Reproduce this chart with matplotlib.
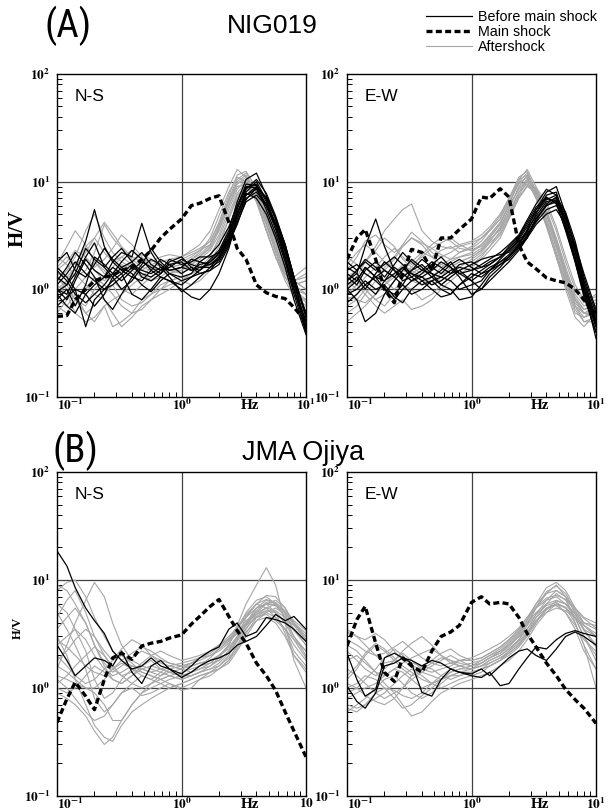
import matplotlib
matplotlib.use('Agg')
import matplotlib.pyplot as plt
from matplotlib.lines import Line2D
from matplotlib.ticker import LogLocator, FixedLocator, NullFormatter

plt.rcParams['mathtext.fontset'] = 'stix'
plt.rcParams['font.family'] = ['Liberation Sans', 'DejaVu Sans']

# ---------------- data ----------------
freq = [0.10, 0.12, 0.14, 0.17, 0.20, 0.24, 0.28, 0.33, 0.40, 0.48, 0.57, 0.68, 0.80,
        1.0, 1.2, 1.4, 1.7, 2.0, 2.4, 2.8, 3.3, 4.0, 4.8, 5.7, 6.8, 8.0, 10.0]

# (A) NIG019 N-S
a_ns_before = [
    [1.0,0.8,1.2,1.9,1.5,1.3,1.6,1.4,1.7,1.5,1.4,1.6,1.5,1.6,1.5,1.7,1.8,2.1,3.2,5.5,8.8,9.5,6.5,4.0,2.2,1.1,0.5],
    [1.3,1.1,1.6,2.8,5.5,2.5,1.8,1.5,1.3,1.2,1.5,1.9,1.7,1.4,1.6,1.5,1.9,2.3,3.5,6.5,10.5,12,7.5,4.5,2.4,1.2,0.45],
    [0.9,0.7,0.6,0.9,1.1,1.3,1.8,2.2,2.0,4.1,2.2,1.6,1.3,0.95,1.1,1.3,1.6,2.0,3.0,5.0,7.5,8.5,6.0,3.8,2.0,1.0,0.45],
    [1.5,1.2,0.9,0.75,0.9,1.1,1.4,1.2,1.5,1.8,1.6,1.4,1.7,1.8,1.5,1.6,1.7,1.9,2.8,4.5,7.0,8.0,6.2,4.2,2.5,1.3,0.55],
    [0.7,0.85,1.0,0.45,0.8,1.0,1.2,1.4,0.9,0.8,1.0,1.3,1.2,1.0,0.85,0.8,1.0,1.4,2.4,4.5,7.5,9.0,7.0,4.5,2.6,1.3,0.4],
    [1.8,2.2,1.5,1.3,1.7,2.4,1.9,1.6,1.8,2.2,1.7,1.5,1.9,1.7,1.8,2.0,2.0,2.2,3.0,5.0,8.0,10.0,6.8,4.0,2.0,1.0,0.5],
    [1.1,1.4,1.8,1.4,1.2,1.0,1.1,1.3,1.6,1.4,1.3,1.5,1.6,1.9,1.7,1.6,1.6,1.8,2.6,4.2,6.5,7.5,6.0,4.0,2.3,1.2,0.6],
    [1.0,0.9,1.3,2.0,2.7,1.6,1.3,1.0,1.2,1.6,1.9,1.7,1.4,1.3,1.4,1.8,2.1,2.6,3.8,6.0,9.0,8.8,5.5,3.3,1.8,0.9,0.4],
    [0.8,1.0,0.7,1.1,2.0,1.7,1.4,1.8,2.3,1.9,1.5,1.3,1.2,1.1,1.3,1.4,1.5,1.7,2.5,4.8,8.5,10.5,7.8,4.8,2.6,1.3,0.6],
    [1.2,1.6,2.2,1.7,1.3,0.8,0.65,0.9,1.3,1.7,2.4,1.8,1.5,1.6,1.9,1.8,1.7,2.0,2.9,5.2,7.8,7.0,5.0,3.0,1.6,0.8,0.38],
    [0.95,1.1,1.4,2.4,1.9,1.6,2.0,2.4,1.8,1.3,1.2,1.4,1.8,2.0,1.6,1.4,1.5,1.9,2.7,4.0,6.8,8.8,7.2,4.6,2.6,1.3,0.55],
    [1.6,1.3,1.0,0.9,0.7,0.9,1.3,1.6,1.4,1.1,0.95,1.2,1.4,1.2,1.3,1.5,1.8,2.2,3.3,5.8,9.5,9.2,6.0,3.6,1.9,1.0,0.42],
]
a_ns_after = [
    [1.2,1.5,2.0,3.5,5.0,3.0,2.2,1.8,1.6,1.5,1.7,1.8,1.9,2.0,2.2,2.4,2.8,4.0,7.0,10.5,12,9.0,5.0,2.8,1.6,1.2,1.0],
    [0.8,0.7,0.9,0.6,0.5,0.7,0.45,0.5,0.6,0.8,0.9,1.1,1.2,1.3,1.4,1.5,1.8,2.5,4.5,7.5,9.0,7.0,4.0,2.2,1.3,0.9,0.7],
    [1.6,2.0,1.7,2.5,3.0,2.2,1.8,2.0,2.3,1.9,1.8,2.0,2.1,2.0,2.3,2.6,3.5,5.5,9.0,13,11,7.0,3.5,2.0,1.4,1.3,1.6],
    [1.0,1.2,1.4,1.1,0.9,0.8,0.6,0.45,0.55,0.7,0.8,0.9,1.0,1.2,1.1,1.2,1.5,2.0,3.5,6.5,9.5,8.0,4.5,2.5,1.5,1.0,0.8],
    [2.0,1.7,1.3,1.5,2.2,4.0,3.0,2.4,1.9,1.6,1.5,1.4,1.6,1.7,1.9,2.2,3.0,4.8,8.0,11,10,6.5,3.5,2.0,1.3,1.1,1.2],
    [0.6,0.8,1.0,1.3,1.8,1.5,1.2,1.0,0.9,1.1,1.3,1.5,1.4,1.6,1.7,1.9,2.3,3.2,5.5,8.5,10.5,8.5,5.0,3.0,1.7,1.1,0.9],
    [1.3,1.0,0.8,0.7,1.0,1.3,1.6,2.0,1.7,1.4,1.2,1.3,1.5,1.4,1.6,1.8,2.1,2.8,4.5,7.0,9.5,8.5,5.5,3.2,1.8,1.2,1.0],
    [1.7,2.5,3.5,2.6,1.8,1.4,1.3,1.5,1.8,2.1,1.9,1.6,1.7,1.8,2.0,2.3,2.6,3.8,6.5,10,11.5,8.0,4.2,2.3,1.4,1.0,0.9],
    [0.9,1.1,0.8,0.6,0.7,0.9,1.1,0.8,0.7,0.75,0.9,1.0,1.2,1.3,1.3,1.5,1.7,2.2,3.8,6.0,8.5,7.5,4.8,2.8,1.6,1.0,0.75],
    [1.4,1.3,1.6,1.9,1.5,1.2,1.4,1.7,1.5,1.3,1.6,1.7,1.5,1.5,1.8,2.0,2.4,3.5,6.0,9.5,11,8.0,4.5,2.5,1.5,1.2,1.3],
    [0.9,1.2,1.6,2.2,3.0,4.2,3.3,2.5,2.0,1.8,1.6,1.5,1.4,1.5,1.7,2.0,2.5,3.8,6.8,9.8,10,7.0,4.0,2.3,1.4,1.1,1.2],
    [1.1,0.9,0.6,0.5,0.55,0.7,0.8,0.9,1.1,1.3,1.2,1.4,1.6,1.7,1.9,2.1,2.6,3.6,6.0,9.0,9.5,6.5,3.6,2.0,1.2,0.85,0.8],
    [1.5,1.8,2.3,2.0,1.6,1.9,2.4,3.2,2.6,2.0,1.6,1.5,1.7,1.9,2.1,2.3,2.8,4.2,7.5,11.5,12.5,8.5,4.6,2.5,1.5,1.2,1.4],
    [0.7,0.6,0.8,1.0,1.3,1.1,0.9,0.7,0.6,0.65,0.8,1.0,1.1,1.2,1.4,1.6,2.0,3.0,5.0,7.8,10,8.0,5.2,3.0,1.7,1.1,0.9],
]
a_ns_main = [0.56,0.57,0.8,1.0,1.2,1.3,1.35,1.5,1.6,1.9,2.3,3.0,3.6,4.5,6.0,6.3,7.0,7.4,4.2,2.4,1.9,1.1,0.93,0.86,0.82,0.68,0.5]

# (A) NIG019 E-W
a_ew_before = [
    [1.2,1.4,2.5,4.5,2.5,1.5,1.2,1.3,1.5,1.4,1.3,1.5,1.6,1.5,1.6,1.8,2.0,2.3,2.8,3.5,4.8,6.5,7.0,4.0,2.0,1.0,0.5],
    [1.0,0.8,0.5,0.6,0.9,1.2,1.5,1.9,1.6,1.3,1.5,1.8,1.4,1.2,1.4,1.6,1.8,2.0,2.5,3.2,4.5,6.0,6.5,4.5,2.3,1.1,0.45],
    [1.5,1.7,1.4,1.2,1.0,0.8,1.0,1.2,1.4,1.7,2.0,1.6,1.3,0.9,1.0,1.3,1.6,2.0,2.6,3.6,5.5,8.0,9.0,5.0,2.5,1.2,0.55],
    [1.3,1.1,1.5,1.8,1.5,1.3,1.6,1.4,1.2,1.0,0.85,0.9,1.1,1.3,1.5,1.7,2.0,2.4,3.0,4.0,5.5,7.0,6.5,3.5,1.8,0.9,0.4],
    [1.8,1.5,1.9,1.6,1.3,1.7,2.2,1.8,1.5,1.8,1.6,1.4,1.5,1.7,1.9,2.0,2.1,2.2,2.7,3.3,4.2,5.5,6.0,4.5,2.6,1.4,0.65],
    [0.9,1.0,1.2,1.0,1.1,0.85,0.75,1.0,1.2,1.3,1.1,1.0,0.8,0.85,1.1,1.4,1.7,2.0,2.5,3.0,4.0,5.0,5.5,4.0,2.2,1.1,0.5],
    [1.1,1.3,1.0,1.4,1.8,1.5,1.3,1.5,1.9,1.6,1.4,1.7,1.9,1.6,1.4,1.5,1.9,2.3,2.9,3.8,5.2,6.8,7.5,4.8,2.4,1.0,0.35],
    [1.4,1.2,1.6,1.3,1.2,1.4,1.6,1.3,1.1,1.2,1.3,1.2,1.0,1.1,1.2,1.5,1.8,2.1,2.6,3.4,5.0,7.5,8.0,4.2,2.0,1.0,0.45],
    [1.0,1.2,1.6,1.3,1.0,0.9,1.1,1.5,1.7,1.4,1.1,1.3,1.5,1.2,1.0,1.2,1.5,1.8,2.3,3.0,4.3,6.2,7.2,5.2,2.8,1.3,0.6],
    [1.6,1.4,1.1,0.9,1.2,1.6,1.4,1.2,1.3,1.5,1.8,1.6,1.4,1.5,1.7,1.9,2.2,2.6,3.2,4.4,6.2,8.5,7.5,3.8,1.8,0.85,0.4],
    [0.75,0.9,1.1,1.3,1.5,1.3,1.1,0.9,1.0,1.2,1.0,0.9,1.1,1.4,1.3,1.5,1.7,1.9,2.4,3.1,4.6,6.0,6.8,4.6,2.5,1.2,0.5],
    [1.2,1.5,1.8,1.5,1.7,2.0,1.7,1.4,1.3,1.1,1.2,1.4,1.7,1.8,1.6,1.7,2.0,2.5,3.1,4.2,5.8,7.2,6.2,3.6,1.9,0.95,0.45],
]
a_ew_after = [
    [1.0,1.3,1.8,2.5,3.5,4.5,5.5,6.2,3.5,2.8,2.5,2.4,2.6,2.8,3.2,3.8,5.0,7.0,10,12,8.0,4.5,2.5,1.3,0.8,0.6,0.6],
    [0.5,0.6,0.7,0.9,1.1,1.3,1.5,1.8,2.2,2.0,2.3,2.5,2.2,2.4,2.8,3.5,4.5,6.5,9.5,11,7.5,4.0,2.0,1.0,0.55,0.45,0.6],
    [1.5,2.0,2.8,3.2,2.6,2.2,2.5,3.0,2.7,2.4,2.1,1.9,2.0,2.2,2.6,3.2,4.2,6.0,8.5,10,7.0,4.2,2.2,1.2,0.7,0.6,0.7],
    [0.7,0.8,1.0,0.8,0.7,0.9,1.1,1.0,0.8,0.9,1.1,1.3,1.5,1.7,2.0,2.5,3.5,5.0,8.0,9.5,7.5,5.0,2.8,1.5,0.8,0.6,0.55],
    [1.2,1.0,1.3,1.6,2.0,2.4,2.0,1.7,2.0,2.4,2.7,3.0,2.6,2.3,2.5,3.0,4.0,6.0,10.5,13,9.0,5.0,2.6,1.4,0.8,0.65,0.75],
    [0.9,1.1,0.9,0.7,0.6,0.7,0.8,0.65,0.7,0.8,1.0,1.2,1.4,1.6,1.9,2.3,3.0,4.5,7.0,9.0,8.0,5.5,3.0,1.6,0.9,0.7,0.8],
    [2.0,1.7,1.4,1.2,1.5,1.9,2.5,3.0,2.6,2.0,1.7,1.6,1.8,2.0,2.3,2.8,3.8,5.5,9.0,11.5,8.5,5.0,2.8,1.4,0.7,0.5,0.5],
    [1.3,1.5,1.8,2.3,3.0,2.5,1.9,1.6,1.4,1.5,1.7,1.9,2.2,2.5,3.0,3.6,4.8,7.0,11,12.5,8.0,4.0,2.0,1.1,0.6,0.55,0.65],
    [0.8,0.9,1.1,1.3,1.2,1.0,1.2,1.4,1.6,1.3,1.2,1.4,1.6,1.9,2.2,2.7,3.3,4.8,7.5,10,8.5,6.0,3.5,1.8,1.0,0.75,0.9],
    [1.1,1.2,1.0,1.4,1.8,1.6,1.4,1.2,1.1,1.3,1.6,1.8,2.0,2.1,2.4,2.9,3.6,5.2,8.0,10.5,7.8,4.5,2.4,1.3,0.75,0.6,0.6],
    [0.6,0.7,0.9,1.2,1.6,2.0,2.6,3.4,2.8,2.2,2.0,2.2,2.5,2.7,3.0,3.5,4.5,6.8,10.5,11.5,7.0,3.8,2.0,1.1,0.65,0.5,0.55],
    [1.4,1.2,1.0,0.8,0.9,1.2,1.5,1.4,1.2,1.1,1.3,1.6,1.8,2.0,2.3,2.8,3.7,5.6,8.8,10.5,8.2,5.2,2.9,1.5,0.85,0.65,0.7],
    [1.7,2.2,2.6,2.2,1.8,1.5,1.3,1.6,2.1,2.6,3.0,2.8,2.4,2.3,2.6,3.1,4.1,6.2,9.8,11,7.2,4.0,2.1,1.2,0.7,0.55,0.6],
    [0.85,0.8,0.75,0.9,1.1,1.4,1.7,1.5,1.3,1.2,1.4,1.5,1.7,1.8,2.1,2.5,3.2,4.6,7.2,9.2,8.8,6.5,3.8,2.0,1.1,0.8,0.85],
]
a_ew_main = [1.9,3.0,3.6,1.9,1.0,0.75,1.4,2.35,2.2,1.5,3.0,3.0,3.6,4.5,7.2,7.0,8.6,7.2,2.6,1.8,1.55,1.28,1.2,1.15,1.0,0.8,0.6]

# (B) JMA Ojiya N-S
b_ns_before = [
    [18.6,13.5,8.5,5.5,4.2,3.2,2.2,1.8,1.5,1.6,1.9,1.6,1.5,1.35,1.6,1.9,2.2,2.4,3.5,4.0,3.0,3.3,4.5,4.3,4.0,3.5,2.7],
    [2.5,1.8,1.3,1.6,1.9,1.8,1.6,2.2,1.4,1.1,1.6,1.8,1.5,1.25,1.4,1.6,1.8,1.9,2.1,2.5,2.7,3.0,3.8,4.8,4.2,4.6,3.5],
]
b_ns_after = [
    [8.0,9.5,10,7.0,4.5,3.0,2.2,1.8,1.6,1.5,1.4,1.3,1.4,1.5,1.6,1.7,1.8,2.0,2.5,3.5,5.0,6.5,7.0,6.0,4.5,3.0,2.0],
    [6.0,5.0,3.5,2.2,1.2,0.8,0.9,1.2,1.5,1.4,1.3,1.2,1.3,1.4,1.5,1.6,1.7,1.8,2.2,3.0,4.5,6.0,5.5,4.5,3.5,2.5,1.8],
    [1.5,2.5,4.0,6.5,9.5,7.0,4.0,2.5,1.8,1.6,1.5,1.4,1.3,1.2,1.3,1.4,1.6,1.9,2.5,3.8,6.0,9.0,13,9.0,4.0,1.8,1.0],
    [3.0,2.0,1.2,0.7,0.45,0.35,0.32,0.45,0.6,0.7,0.8,0.9,1.0,1.1,1.2,1.3,1.4,1.5,1.7,2.2,3.0,4.2,5.0,5.5,4.8,3.5,2.5],
    [1.2,1.0,0.8,0.6,0.5,0.55,0.7,0.9,1.1,1.3,1.2,1.1,1.0,1.1,1.2,1.3,1.4,1.5,1.8,2.5,3.5,4.8,5.5,6.0,5.0,3.8,2.8],
    [4.5,6.5,8.0,5.0,3.0,2.2,1.8,2.3,2.8,2.5,2.0,1.7,1.6,1.5,1.7,1.9,2.2,2.5,2.8,3.2,4.0,5.5,6.5,6.0,5.0,4.0,3.0],
    [2.0,1.6,1.3,1.1,1.2,1.5,1.8,2.0,1.7,1.4,1.3,1.2,1.1,1.0,1.1,1.2,1.3,1.5,1.8,2.3,3.2,4.5,5.0,4.5,3.5,2.2,1.6],
    [1.0,0.9,1.0,1.3,1.6,1.4,1.2,1.1,1.3,1.6,1.8,1.5,1.4,1.3,1.4,1.5,1.7,2.0,2.4,3.0,3.8,4.5,4.8,4.2,3.5,2.8,2.2],
    [5.0,3.5,2.5,1.5,0.8,0.6,0.7,0.9,1.0,0.85,0.9,1.0,1.1,0.95,1.0,1.2,1.4,1.6,2.0,2.8,4.0,5.5,6.0,5.0,3.2,2.0,1.5],
    [1.8,2.2,2.8,3.5,3.0,2.0,1.5,1.3,1.4,1.7,2.0,2.2,2.0,1.8,1.9,2.0,2.2,2.5,3.0,3.6,4.5,5.5,6.0,5.8,5.0,4.0,3.2],
    [1.3,1.2,1.1,1.0,0.9,0.7,0.5,0.5,0.7,0.9,1.1,1.2,1.3,1.2,1.3,1.4,1.5,1.6,1.9,2.4,3.3,4.2,4.5,4.0,3.0,2.0,1.4],
    [2.5,3.0,3.5,2.8,2.0,1.5,1.3,1.4,1.6,1.5,1.4,1.5,1.6,1.7,1.8,1.9,2.0,2.2,2.6,3.3,4.2,5.0,5.5,5.2,4.5,3.8,2.8],
    [1.6,1.4,1.2,1.0,1.0,1.2,1.5,1.7,1.5,1.3,1.2,1.4,1.6,1.5,1.4,1.5,1.6,1.8,2.2,2.8,3.8,5.0,6.0,6.5,5.5,4.0,3.0],
    [3.5,4.5,5.5,4.0,2.5,1.7,1.4,1.6,1.9,2.2,2.0,1.8,1.7,1.6,1.7,1.8,2.0,2.3,2.7,3.2,4.0,4.8,5.2,5.0,4.2,3.0,2.2],
    [9.0,8.0,6.0,4.0,2.5,1.6,1.2,1.1,1.3,1.5,1.6,1.5,1.4,1.3,1.4,1.6,1.9,2.3,2.8,3.5,4.6,6.0,7.2,7.0,5.5,4.0,2.8],
    [1.1,1.3,1.6,2.0,2.4,2.0,1.6,1.3,1.1,1.0,1.1,1.3,1.5,1.6,1.6,1.7,1.8,2.0,2.3,2.9,3.9,5.2,6.2,5.8,4.6,3.4,2.5],
    [0.9,0.8,0.7,0.55,0.4,0.3,0.35,0.5,0.7,0.9,1.0,1.1,1.2,1.3,1.3,1.4,1.5,1.7,2.1,2.7,3.6,4.6,5.2,5.0,4.0,2.8,1.9],
    [2.8,2.4,2.0,1.6,1.4,1.3,1.5,1.8,2.1,2.4,2.2,1.9,1.7,1.6,1.7,1.9,2.1,2.4,2.9,3.7,4.8,6.0,6.6,6.2,5.2,4.2,3.4],
]
b_ns_main = [0.48,0.79,1.13,0.84,0.63,1.2,1.9,2.1,1.84,2.45,2.6,2.7,2.9,3.1,3.9,4.6,5.7,6.6,4.6,3.4,2.6,1.7,1.3,0.95,0.6,0.4,0.23]

# (B) JMA Ojiya E-W
b_ew_before = [
    [2.1,1.2,0.84,0.97,1.9,2.1,1.9,1.7,0.91,0.84,1.2,1.5,1.4,1.35,1.5,1.3,1.6,1.9,2.2,2.3,2.0,1.8,2.3,3.0,3.3,3.0,2.5],
    [1.04,0.75,0.65,0.9,1.6,1.7,1.9,1.8,1.6,1.8,1.7,1.5,1.4,1.3,1.25,1.4,1.05,1.1,1.5,1.9,2.4,2.3,2.8,3.2,3.4,3.2,3.0],
]
b_ew_after = [
    [3.3,3.0,2.5,2.0,1.7,1.8,2.2,2.6,3.0,2.5,2.0,1.7,1.6,1.5,1.6,1.8,2.0,2.3,2.8,3.5,4.8,6.5,8.0,7.0,5.0,3.5,2.5],
    [0.6,0.7,0.8,1.0,1.2,1.3,1.1,0.9,0.8,0.9,1.1,1.3,1.4,1.5,1.6,1.7,1.9,2.1,2.5,3.2,4.5,6.0,7.5,6.5,4.5,3.0,2.0],
    [1.2,1.5,2.0,2.5,2.2,1.8,1.5,1.3,1.4,1.6,1.8,2.0,1.8,1.6,1.7,1.9,2.2,2.6,3.2,4.2,6.0,8.5,9.5,8.0,5.5,4.0,3.5],
    [2.5,2.2,1.8,1.4,1.1,0.9,0.7,0.55,0.6,0.75,0.9,1.0,1.1,1.2,1.3,1.4,1.6,1.8,2.2,2.8,3.8,5.0,6.0,5.5,4.0,2.5,1.0],
    [0.9,1.0,1.2,1.5,1.9,2.3,2.0,1.7,1.6,1.8,2.1,2.3,2.0,1.8,1.9,2.1,2.4,2.8,3.5,4.5,5.5,6.5,7.0,6.0,4.5,3.5,3.0],
    [1.5,1.3,1.1,0.9,0.8,0.9,1.0,1.2,1.4,1.3,1.2,1.3,1.4,1.4,1.5,1.6,1.8,2.0,2.4,3.0,4.0,5.5,6.0,5.0,3.5,2.2,1.5],
    [3.5,3.0,2.8,3.2,2.8,2.2,1.8,1.6,1.5,1.7,1.9,1.8,1.7,1.6,1.8,2.0,2.3,2.7,3.3,4.0,5.0,6.0,6.5,6.0,5.0,4.0,3.8],
    [0.7,0.65,0.7,0.8,0.9,1.1,1.3,1.5,1.3,1.1,1.0,1.1,1.2,1.3,1.4,1.6,1.8,2.2,2.8,3.8,5.5,7.5,9.0,7.0,4.0,2.5,1.5],
    [1.8,2.0,1.7,1.4,1.3,1.5,1.7,1.9,2.1,2.3,2.0,1.8,1.6,1.5,1.7,1.9,2.1,2.4,3.0,3.8,4.8,5.8,6.2,5.5,4.5,3.8,3.2],
    [1.0,1.1,1.3,1.2,1.0,0.8,0.65,0.7,0.85,1.0,1.2,1.4,1.5,1.5,1.6,1.8,2.0,2.3,2.7,3.3,4.2,5.0,5.5,5.2,4.5,3.8,3.0],
    [2.2,1.8,1.5,1.3,1.5,1.8,2.1,1.8,1.5,1.4,1.5,1.6,1.8,1.9,2.1,2.3,2.6,3.0,3.6,4.5,6.0,7.5,8.0,7.0,5.5,4.5,4.0],
    [0.8,0.9,1.0,1.1,1.3,1.5,1.4,1.2,1.0,1.1,1.3,1.5,1.6,1.7,1.8,2.0,2.2,2.5,3.0,3.5,4.5,5.5,5.8,5.0,3.8,2.8,2.2],
    [1.3,1.6,2.1,2.6,2.3,1.9,1.6,1.4,1.2,1.1,1.2,1.4,1.5,1.6,1.7,1.9,2.1,2.5,3.1,4.0,5.6,7.8,8.8,7.5,5.2,3.8,3.0],
    [0.65,0.6,0.7,0.9,1.0,0.95,0.85,0.8,0.9,1.1,1.2,1.3,1.3,1.4,1.5,1.7,1.9,2.2,2.6,3.2,4.2,5.4,6.4,6.0,4.8,3.4,2.4],
    [2.8,2.5,2.2,2.0,2.1,2.4,2.7,2.3,1.9,1.7,1.6,1.7,1.8,1.8,1.9,2.1,2.4,2.8,3.4,4.3,5.6,6.8,7.2,6.6,5.4,4.4,3.6],
    [1.1,1.0,0.85,0.75,0.7,0.8,1.0,1.3,1.6,1.5,1.3,1.2,1.3,1.4,1.5,1.6,1.8,2.1,2.5,3.1,4.1,5.3,6.0,5.6,4.4,3.0,1.8],
]
b_ew_main = [2.45,4.3,5.7,2.6,1.39,1.15,1.9,1.6,1.4,2.2,3.0,3.3,3.8,6.2,7.0,6.0,6.2,6.0,4.5,3.2,2.4,1.7,1.3,0.97,0.78,0.65,0.47]

legend_labels = ['Before main shock', 'Main shock', 'Aftershock']
station_titles = [('(A)', 'NIG019'), ('(B)', 'JMA Ojiya')]

# ---------------- styles ----------------
C_BEFORE = 'black'
C_AFTER = '#a6a6a6'
LW_BEFORE = 0.9
LW_AFTER = 0.8
LW_MAIN = 2.4
DASH = (0, (1.8, 1.0))
SERIF = ['Liberation Serif', 'DejaVu Serif']
COND = ['Roboto Condensed', 'Liberation Sans']
TICK_FS = 9.5

W, H = 609, 811
fig = plt.figure(figsize=(W / 100, H / 100), dpi=100)

def add_ax(left, top, bottom):
    return fig.add_axes([left / W, 1 - bottom / H, 249 / W, (bottom - top) / H])

ax_a_ns = add_ax(57, 74, 397)
ax_a_ew = add_ax(347, 74, 397)
ax_b_ns = add_ax(57, 472, 796)
ax_b_ew = add_ax(347, 472, 796)

panels = [
    (ax_a_ns, a_ns_before, a_ns_after, a_ns_main, 'N-S', r'$\mathbf{10^{1}}$'),
    (ax_a_ew, a_ew_before, a_ew_after, a_ew_main, 'E-W', r'$\mathbf{10^{1}}$'),
    (ax_b_ns, b_ns_before, b_ns_after, b_ns_main, 'N-S', r'$\mathbf{10}$'),
    (ax_b_ew, b_ew_before, b_ew_after, b_ew_main, 'E-W', r'$\mathbf{10^{1}}$'),
]

for ax, before, after, main, comp, rlabel in panels:
    ax.set_xscale('log')
    ax.set_yscale('log')
    for c in after:
        ax.plot(freq, c, color=C_AFTER, lw=LW_AFTER, zorder=2)
    for c in before:
        ax.plot(freq, c, color=C_BEFORE, lw=LW_BEFORE, zorder=3)
    ax.plot(freq, main, color='black', lw=LW_MAIN, linestyle=DASH, zorder=4)
    ax.set_xlim(0.1, 10)
    ax.set_ylim(0.1, 100)
    ax.axvline(1, color='#404040', lw=0.9, zorder=1)
    ax.axhline(1, color='#404040', lw=0.9, zorder=1)
    ax.axhline(10, color='#404040', lw=0.9, zorder=1)
    ax.xaxis.set_major_locator(FixedLocator([0.1, 1, 10]))
    ax.yaxis.set_major_locator(FixedLocator([0.1, 1, 10, 100]))
    ax.xaxis.set_minor_locator(LogLocator(base=10, subs=[2, 3, 4, 5, 6, 7, 8, 9]))
    ax.yaxis.set_minor_locator(LogLocator(base=10, subs=[2, 3, 4, 5, 6, 7, 8, 9]))
    ax.xaxis.set_minor_formatter(NullFormatter())
    ax.yaxis.set_minor_formatter(NullFormatter())
    ax.set_xticklabels([r'$\mathbf{10^{-1}}$', r'$\mathbf{10^{0}}$', rlabel], fontsize=TICK_FS)
    ax.set_yticklabels([r'$\mathbf{10^{-1}}$', r'$\mathbf{10^{0}}$', r'$\mathbf{10^{1}}$', r'$\mathbf{10^{2}}$'],
                       fontsize=TICK_FS)
    ax.get_xticklabels()[0].set_horizontalalignment('left')
    ax.tick_params(which='both', direction='in', top=False, right=False, colors='black')
    ax.tick_params(axis='x', which='major', length=0, pad=0.5)
    ax.tick_params(axis='y', which='major', length=0, pad=5)
    ax.tick_params(which='minor', length=3.5, width=0.7)
    for s in ax.spines.values():
        s.set_linewidth(1.0)
    ax.text(0.072, 0.955, comp, transform=ax.transAxes, fontsize=12.5, va='top', ha='left')
    ax.text(0.775, -0.006, 'Hz', transform=ax.transAxes, fontsize=11, fontweight='bold',
            family=SERIF, ha='center', va='top')

# y labels
fig.text(18 / W, 1 - 228 / H, 'H/V', rotation=90, family=SERIF, fontweight='bold', fontsize=15,
         ha='center', va='center')
fig.text(18 / W, 1 - 628 / H, 'H/V', rotation=90, family=SERIF, fontweight='bold', fontsize=9,
         ha='center', va='center')

# titles
fig.text(68 / W, 1 - 26 / H, station_titles[0][0], fontsize=28, ha='center', va='center',
         family=COND, fontstretch='condensed')
fig.text(272 / W, 1 - 26 / H, station_titles[0][1], fontsize=19, ha='center', va='center')
fig.text(75 / W, 1 - 451 / H, station_titles[1][0], fontsize=28, ha='center', va='center',
         family=COND, fontstretch='condensed')
fig.text(303 / W, 1 - 453 / H, station_titles[1][1], fontsize=19.5, ha='center', va='center')

# legend
handles = [Line2D([], [], color=C_BEFORE, lw=LW_BEFORE),
           Line2D([], [], color='black', lw=LW_MAIN, linestyle=DASH),
           Line2D([], [], color=C_AFTER, lw=LW_AFTER)]
fig.legend(handles, legend_labels, loc='upper left', bbox_to_anchor=(426 / W, 1 - 10 / H),
           frameon=False, fontsize=10.3, handlelength=3.2, handletextpad=0.45,
           labelspacing=0.08, borderpad=0, borderaxespad=0)

fig.savefig('out.png', dpi=100)
